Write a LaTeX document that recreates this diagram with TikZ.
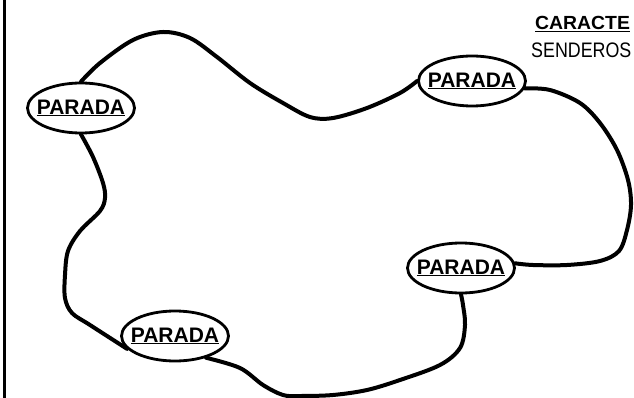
\documentclass[tikz,border=0pt]{standalone}
\usepackage{fontspec}
\setmainfont{Liberation Sans}
\newfontfamily\paradafont[FakeStretch=1.0]{Liberation Sans Bold}
\newfontfamily\headfont[FakeStretch=1.02]{Liberation Sans Bold}
\newfontfamily\subfont[FakeStretch=0.85]{Liberation Sans}
\usetikzlibrary{shapes.geometric}
\newcommand{\stoplabel}{\makebox[0pt]{\underline{PARADA}}}
\tikzset{
  parada/.style={draw, ellipse, line width=2.8pt, minimum width=107pt, minimum height=50pt, inner sep=0pt,
    font=\paradafont\fontsize{21}{24}\selectfont},
  trail/.style={line width=4pt, line cap=round, line join=round},
}
\begin{document}
\begin{tikzpicture}[x=1pt,y=-1pt]
\useasboundingbox (0,0) rectangle (634,398);
\clip (0,0) rectangle (634,398);
\draw[line width=3pt] (4.5,0) -- (4.5,398);

\node[parada] (p1) at (81,108) {\stoplabel};
\node[parada] (p2) at (472,81) {\stoplabel};
\node[parada] (p3) at (461,268) {\stoplabel};
\node[parada] (p4) at (175,336) {\stoplabel};

\node[anchor=base west, inner sep=0pt, font=\headfont\fontsize{19}{22}\selectfont] (t1) at (535,30) {\underline{CARACTE}};
\node[anchor=base west, inner sep=0pt, font=\subfont\fontsize{21}{22}\selectfont] (t2) at (531,58) {SENDEROS};

\draw[trail] plot[smooth, tension=0.55] coordinates {(p1.90) (100,63) (133,40) (163,32) (190,38) (217,57) (250,83) (283,103) (310,117) (333,118) (367,108) (400,93) (p2.180)};
\draw[trail] plot[smooth, tension=0.55] coordinates {(p2.-8) (550,90) (580,103) (600,123) (617,150) (628,180) (631,205) (627,230) (619,251) (600,261) (567,265) (533,265) (p3.5)};
\draw[trail] plot[smooth, tension=0.55] coordinates {(p3.-90) (463,305) (465,325) (460,348) (440,365) (400,380) (367,390) (333,395) (300,396) (283,395) (263,385) (240,368) (p4.-35)};
\draw[trail] plot[smooth, tension=0.55] coordinates {(p4.195) (90,325) (72,313) (65,298) (65,275) (68,251) (80,231) (100,211) (105,198) (103,183) (93,157) (p1.-90)};
\end{tikzpicture}
\end{document}
